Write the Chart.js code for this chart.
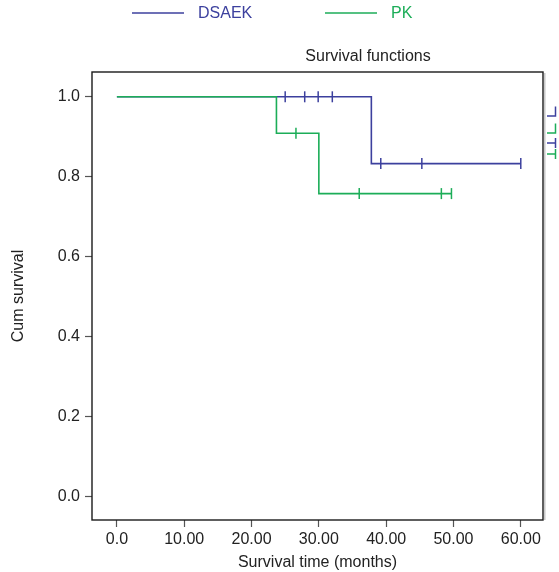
<!DOCTYPE html>
<html>
<head>
<meta charset="utf-8">
<script src="https://cdn.jsdelivr.net/npm/chart.js@4"></script>
<style>
  html, body { margin: 0; padding: 0; background: #fff; }
  #wrap { width: 559px; height: 572px; position: relative; }
</style>
</head>
<body>
<div id="wrap"><canvas id="km_canvas"></canvas></div>
<script>
// Kaplan-Meier steps
const groupLabels = ['DSAEK', 'PK'];
const groupColors = ['#3c409e', '#1cad58'];

const dsaekTimes = [0, 37.8, 60.0];
const dsaekSurv = [1.0, 0.833, 0.833];
const dsaekCensorTimes = [25.0, 27.9, 29.9, 32.0, 39.2, 45.3, 60.0];
const dsaekCensorSurv = [1.0, 1.0, 1.0, 1.0, 0.833, 0.833, 0.833];

const pkTimes = [0, 23.7, 30.0, 49.7];
const pkSurv = [1.0, 0.909, 0.758, 0.758];
const pkCensorTimes = [26.6, 36.0, 48.2, 49.7];
const pkCensorSurv = [0.909, 0.758, 0.758, 0.758];

const xTicks = [0, 10, 20, 30, 40, 50, 60];
const xTickLabels = ['0.0', '10.00', '20.00', '30.00', '40.00', '50.00', '60.00'];
const yTicks = [0, 0.2, 0.4, 0.6, 0.8, 1.0];
const yTickLabels = ['0.0', '0.2', '0.4', '0.6', '0.8', '1.0'];

const FONT = '"Liberation Sans", Arial, sans-serif';
const TEXT = '#222';

function toPoints(xs, ys) {
    return xs.map((x, i) => ({ x: x, y: ys[i] }));
}

function curve(label, xs, ys, color, order) {
    return {
        label: label,
        data: toPoints(xs, ys),
        borderColor: color,
        backgroundColor: color,
        borderWidth: 1.6,
        stepped: true,
        pointRadius: 0,
        fill: false,
        order: order
    };
}

function censors(xs, ys, color, order) {
    return {
        label: '',
        data: toPoints(xs, ys),
        showLine: false,
        borderColor: color,
        backgroundColor: color,
        pointStyle: 'line',
        pointRotation: 90,
        pointRadius: 5.5,
        pointBorderWidth: 1.5,
        pointHoverRadius: 5.5,
        order: order
    };
}

// frame, title, legend and the cut-off legend glyphs on the right edge
const decorations = {
    id: 'decorations',
    afterDraw(chart) {
        const c = chart.ctx;
        const a = chart.chartArea;
        c.save();
        // frame (with the faint grey shade on the right)
        c.strokeStyle = '#c8c8c8';
        c.lineWidth = 1.5;
        c.beginPath();
        c.moveTo(a.right + 1.8, a.top + 1);
        c.lineTo(a.right + 1.8, a.bottom);
        c.stroke();
        c.strokeStyle = '#1a1a1a';
        c.lineWidth = 1.4;
        c.strokeRect(a.left, a.top, a.right - a.left, a.bottom - a.top);

        // title
        c.fillStyle = TEXT;
        c.font = '16px ' + FONT;
        c.textAlign = 'center';
        c.textBaseline = 'middle';
        c.fillText('Survival functions', 368, 57);

        // legend
        const legendX = [132, 325];
        c.textAlign = 'left';
        groupLabels.forEach((lab, i) => {
            c.strokeStyle = groupColors[i];
            c.lineWidth = 1.4;
            c.beginPath();
            c.moveTo(legendX[i], 13);
            c.lineTo(legendX[i] + 52, 13);
            c.stroke();
            c.fillStyle = groupColors[i];
            c.fillText(lab, legendX[i] + 66, 14);
        });

        // clipped glyphs at the right edge
        c.lineWidth = 1.5;
        const glyphs = [
            { y: 116, color: groupColors[0], kind: 'step' },
            { y: 133, color: groupColors[1], kind: 'step' },
            { y: 143, color: groupColors[0], kind: 'tick' },
            { y: 154, color: groupColors[1], kind: 'tick' }
        ];
        glyphs.forEach(g => {
            c.strokeStyle = g.color;
            c.beginPath();
            if (g.kind === 'step') {
                c.moveTo(547, g.y);
                c.lineTo(555.5, g.y);
                c.lineTo(555.5, g.y - 9.5);
            } else {
                c.moveTo(547, g.y);
                c.lineTo(555.5, g.y);
                c.moveTo(555.5, g.y - 5);
                c.lineTo(555.5, g.y + 5);
            }
            c.stroke();
        });
        c.restore();
    }
};

const ctx = document.getElementById('km_canvas');

new Chart(ctx, {
    type: 'line',
    data: {
        datasets: [
            curve(groupLabels[0], dsaekTimes, dsaekSurv, groupColors[0], 3),
            censors(dsaekCensorTimes, dsaekCensorSurv, groupColors[0], 2),
            curve(groupLabels[1], pkTimes, pkSurv, groupColors[1], 1),
            censors(pkCensorTimes, pkCensorSurv, groupColors[1], 0)
        ]
    },
    options: {
        responsive: true,
        maintainAspectRatio: false,
        animation: false,
        layout: {
            padding: { top: 72, right: 16, left: 0, bottom: 0 }
        },
        plugins: {
            legend: { display: false },
            title: { display: false },
            tooltip: { enabled: false }
        },
        scales: {
            x: {
                type: 'linear',
                min: -3.7,
                max: 63.3,
                afterBuildTicks: (scale) => {
                    scale.ticks = xTicks.map(v => ({ value: v }));
                },
                afterFit: (scale) => { scale.height = 52; },
                ticks: {
                    autoSkip: false,
                    maxRotation: 0,
                    padding: 3,
                    color: TEXT,
                    font: { family: FONT, size: 16 },
                    callback: (value) => {
                        const i = xTicks.indexOf(value);
                        return i >= 0 ? xTickLabels[i] : '';
                    }
                },
                grid: {
                    drawOnChartArea: false,
                    drawTicks: true,
                    tickLength: 7,
                    tickColor: '#555',
                    tickWidth: 1.2
                },
                border: { display: false },
                title: {
                    display: true,
                    text: 'Survival time (months)',
                    color: TEXT,
                    font: { family: FONT, size: 16 },
                    padding: { top: 0, bottom: 0 }
                }
            },
            y: {
                type: 'linear',
                min: -0.058,
                max: 1.062,
                afterBuildTicks: (scale) => {
                    scale.ticks = yTicks.map(v => ({ value: v }));
                },
                afterFit: (scale) => { scale.width = 92; },
                ticks: {
                    autoSkip: false,
                    padding: 5,
                    color: TEXT,
                    font: { family: FONT, size: 16 },
                    callback: (value) => {
                        const i = yTicks.findIndex(t => Math.abs(t - value) < 1e-9);
                        return i >= 0 ? yTickLabels[i] : '';
                    }
                },
                grid: {
                    drawOnChartArea: false,
                    drawTicks: true,
                    tickLength: 7,
                    tickColor: '#555',
                    tickWidth: 1.2
                },
                border: { display: false },
                title: {
                    display: true,
                    text: 'Cum survival',
                    color: TEXT,
                    font: { family: FONT, size: 16 },
                    padding: { top: 9, bottom: 0 }
                }
            }
        }
    },
    plugins: [decorations]
});
</script>
</body>
</html>
